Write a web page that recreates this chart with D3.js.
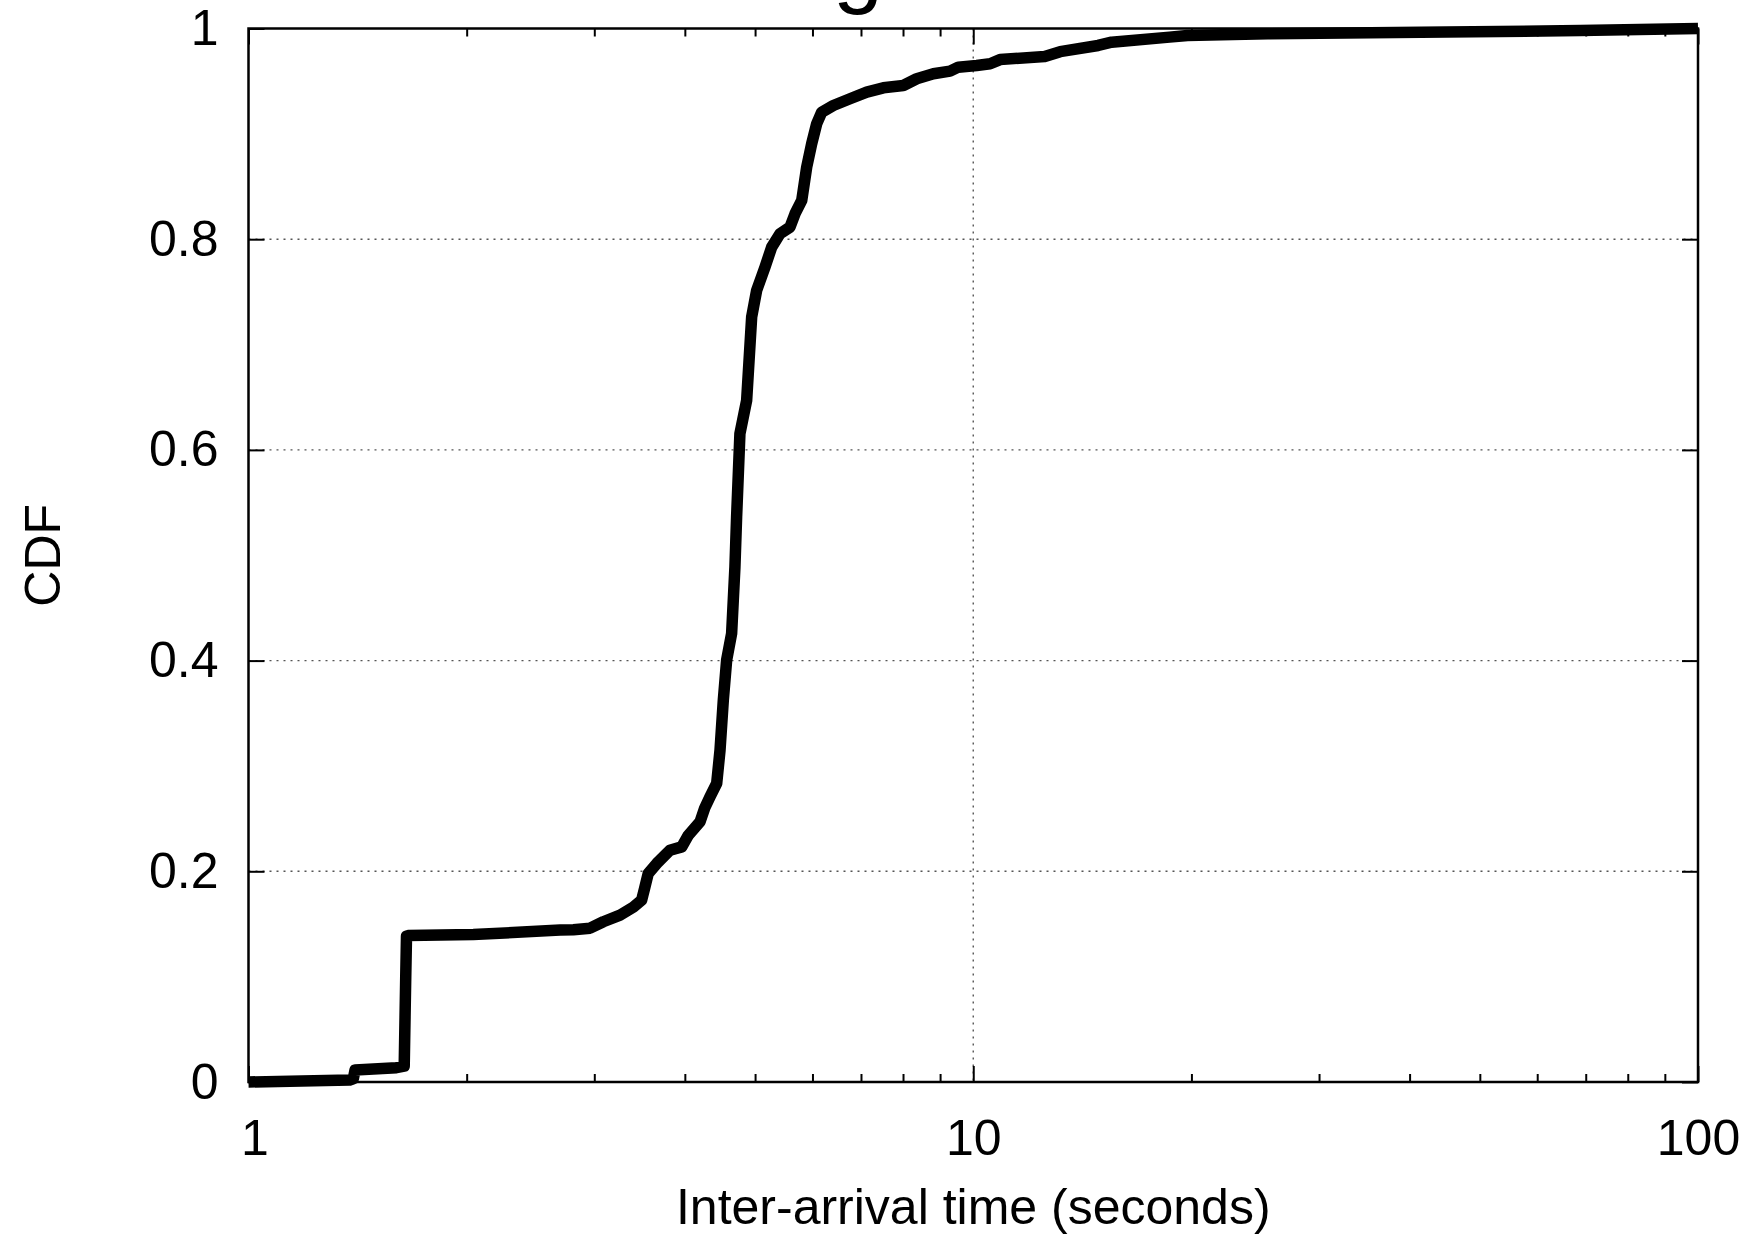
<!DOCTYPE html>
<html>
<head>
<meta charset="utf-8">
<script src="https://cdn.jsdelivr.net/npm/d3@7"></script>
<style>
  html, body { margin: 0; padding: 0; background: #fff; }
  svg { display: block; }
  text { font-family: "Liberation Sans", Arial, Helvetica, sans-serif; fill: #000; }
</style>
</head>
<body>
<svg id="chart" width="1755" height="1237"></svg>
<script>
// ---- data ----
const interArrival = [1.000, 1.380, 1.395, 1.403, 1.600, 1.640, 1.648, 1.652, 1.660, 2.043,
  2.692, 2.807, 2.960, 3.087, 3.256, 3.396, 3.487, 3.524, 3.561, 3.659,
  3.815, 3.961, 4.045, 4.198, 4.260, 4.333, 4.426, 4.473, 4.520, 4.568,
  4.641, 4.690, 4.715, 4.765, 4.868, 4.946, 5.025, 5.160, 5.271, 5.412,
  5.587, 5.677, 5.799, 5.891, 5.985, 6.081, 6.179, 6.411, 6.760, 7.129,
  7.516, 8.008, 8.356, 8.810, 9.288, 9.537, 10.11, 10.55, 10.89, 12.55,
  13.18, 14.87, 15.52, 18.66, 19.75, 25.50, 44.96, 68.80, 100.0];
const cdfValues = [0.000, 0.002, 0.003, 0.0114, 0.0136, 0.015, 0.100, 0.1385, 0.139, 0.140,
  0.1442, 0.1446, 0.1460, 0.1521, 0.1584, 0.1660, 0.1727, 0.1853, 0.1980, 0.2075,
  0.2200, 0.2232, 0.2343, 0.2470, 0.2600, 0.2707, 0.2834, 0.3150, 0.3624, 0.4004,
  0.4257, 0.4889, 0.5363, 0.6155, 0.6471, 0.7261, 0.7514, 0.7735, 0.7925, 0.8052,
  0.8115, 0.8242, 0.8368, 0.8684, 0.8906, 0.9096, 0.9206, 0.9269, 0.9333, 0.9396,
  0.9437, 0.9459, 0.9523, 0.9570, 0.9595, 0.9633, 0.9649, 0.9665, 0.9705, 0.9734,
  0.9780, 0.9839, 0.9870, 0.9918, 0.9934, 0.9950, 0.9966, 0.9981, 1.0000];
const xMajorTicks = [1, 10, 100];
const xMinorTicks = [2, 3, 4, 5, 6, 7, 8, 9, 20, 30, 40, 50, 60, 70, 80, 90];
const yTicks = [0, 0.2, 0.4, 0.6, 0.8, 1];
const yGrid = [0.2, 0.4, 0.6, 0.8];
const xGrid = [10];
const titleText = "Heartbeat messages";
const xLabel = "Inter-arrival time (seconds)";
const yLabel = "CDF";

// ---- layout ----
const L = 248.5, R = 1698, T = 28.5, B = 1082;
const fontSize = 50;
const svg = d3.select("#chart");

const x = d3.scaleLog().domain([1, 100]).range([L, R]);
const y = d3.scaleLinear().domain([0, 1]).range([B, T]);

// title (only its descender is visible above the frame, as in the reference)
const title = svg.append("text")
  .attr("y", -4)
  .attr("font-size", 90)
  .text(titleText);
const gi = titleText.indexOf("g");
const ext = title.node().getExtentOfChar(gi);
title.attr("x", 858 - (ext.x + ext.width / 2));

// grid
const grid = svg.append("g").attr("stroke", "#555").attr("stroke-width", 1.4).attr("stroke-dasharray", "2,5");
grid.selectAll("line.h").data(yGrid).join("line").attr("class", "h")
  .attr("x1", L).attr("x2", R).attr("y1", d => y(d)).attr("y2", d => y(d));
grid.selectAll("line.v").data(xGrid).join("line").attr("class", "v")
  .attr("y1", T).attr("y2", B).attr("x1", d => x(d)).attr("x2", d => x(d));

// axes (inward ticks, mirrored)
function styleAxis(g) {
  g.select(".domain").remove();
  g.selectAll(".tick line").attr("stroke", "#000").attr("stroke-width", 2);
  g.selectAll(".tick text").attr("font-size", fontSize)
    .attr("font-family", "'Liberation Sans', Arial, Helvetica, sans-serif").attr("fill", "#000");
}
svg.append("g").attr("transform", `translate(0,${B})`)
  .call(d3.axisBottom(x).tickValues(xMajorTicks).tickFormat(d3.format("d")).tickSize(-16).tickPadding(37))
  .call(styleAxis)
  .call(g => g.selectAll(".tick text").filter(d => d === 1).attr("dx", 6));
svg.append("g").attr("transform", `translate(0,${B})`)
  .call(d3.axisBottom(x).tickValues(xMinorTicks).tickFormat("").tickSize(-8))
  .call(styleAxis);
svg.append("g").attr("transform", `translate(0,${T})`)
  .call(d3.axisTop(x).tickValues(xMajorTicks).tickFormat("").tickSize(-16))
  .call(styleAxis);
svg.append("g").attr("transform", `translate(0,${T})`)
  .call(d3.axisTop(x).tickValues(xMinorTicks).tickFormat("").tickSize(-8))
  .call(styleAxis);
svg.append("g").attr("transform", `translate(${L},0)`)
  .call(d3.axisLeft(y).tickValues(yTicks).tickFormat(d => d3.format("")(d)).tickSize(-16).tickPadding(30))
  .call(styleAxis);
svg.append("g").attr("transform", `translate(${R},0)`)
  .call(d3.axisRight(y).tickValues(yTicks).tickFormat("").tickSize(-16))
  .call(styleAxis);

// frame
svg.append("rect").attr("x", L).attr("y", T).attr("width", R - L).attr("height", B - T)
  .attr("fill", "none").attr("stroke", "#000").attr("stroke-width", 2.5);

// curve
const pts = interArrival.map((v, i) => ({ x: v, y: cdfValues[i] }));
svg.append("path").datum(pts)
  .attr("fill", "none").attr("stroke", "#000").attr("stroke-width", 11.5)
  .attr("stroke-linejoin", "round").attr("stroke-linecap", "butt")
  .attr("d", d3.line().x(d => x(d.x)).y(d => y(d.y)));

// axis labels
svg.append("text").attr("x", (L + R) / 2).attr("y", 1224)
  .attr("text-anchor", "middle").attr("font-size", fontSize).text(xLabel);
svg.append("text").attr("transform", `translate(60,${(T + B) / 2}) rotate(-90)`)
  .attr("text-anchor", "middle").attr("font-size", fontSize).text(yLabel);
</script>
</body>
</html>
